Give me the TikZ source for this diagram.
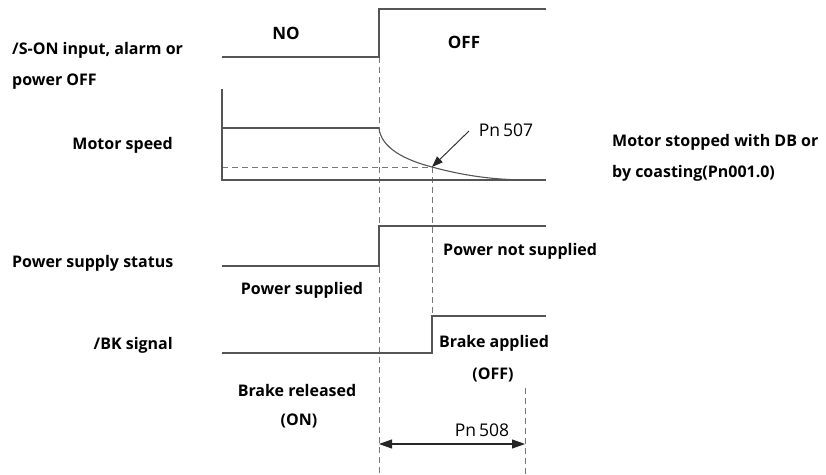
\documentclass[tikz,border=0pt]{standalone}
\usepackage{fontspec}
\setmainfont{Open Sans}
\usetikzlibrary{arrows.meta}
\definecolor{lc}{HTML}{555555}
\tikzset{
  sig/.style={draw=lc, line width=1.3pt},
  dsh/.style={draw=lc!80, line width=1pt, dash pattern=on 6pt off 4pt},
  lbl/.style={font=\fontsize{16}{18}\selectfont\bfseries, inner sep=0pt, text=black},
  plbl/.style={font=\fontsize{17.5}{19}\selectfont, inner sep=0pt, text=black},
  dimarrow/.style={draw=black!85, line width=1.1pt, {Triangle[length=13pt,width=9pt]}-{Triangle[length=13pt,width=9pt]}},
  ptrarrow/.style={draw=black!85, line width=0.9pt, -{Triangle[length=11pt,width=8pt]}},
}
\begin{document}
\begin{tikzpicture}[x=1pt,y=-1pt]
\useasboundingbox (0,0) rectangle (826,474);
% coordinates
\coordinate (s0) at (222,57);
\coordinate (s1) at (379,57);
\coordinate (s2) at (379,9);
\coordinate (s3) at (546,9);
\coordinate (ax0) at (222,89);
\coordinate (ax1) at (222,180);
\coordinate (ax2) at (546,180);
\coordinate (m0) at (222,128);
\coordinate (m1) at (379,128);
\coordinate (cp) at (432,167);
\coordinate (d0) at (222,167);
\coordinate (p0) at (222,266);
\coordinate (p1) at (379,266);
\coordinate (p2) at (379,226);
\coordinate (p3) at (546,226);
\coordinate (b0) at (222,353);
\coordinate (b1) at (432,353);
\coordinate (b2) at (432,316);
\coordinate (b3) at (546,316);
\coordinate (v1t) at (379,57);
\coordinate (v1b) at (379,474);
\coordinate (v3t) at (525,388);
\coordinate (v3b) at (525,474);
\coordinate (a8l) at (379,444);
\coordinate (a8r) at (525,444);
\coordinate (a7s) at (469,131);
% dashed guides
\draw[dsh] (v1t) -- (v1b);
\draw[dsh] (cp) -- (b2);
\draw[dsh] (d0) -- (cp);
\draw[dsh] (v3t) -- (v3b);
% signals
\draw[sig] (s0) -- (s1) -- (s2) -- (s3);
\draw[sig] (ax0) -- (ax1) -- (ax2);
\draw[sig] (m0) -- (m1);
\draw[draw=lc, line width=1.1pt] (m1) .. controls (381,148) and (405,160) .. (cp) .. controls (465,176) and (495,180) .. (530,180);
\draw[sig] (p0) -- (p1) -- (p2) -- (p3);
\draw[sig] (b0) -- (b1) -- (b2) -- (b3);
% arrows
\draw[ptrarrow] (a7s) -- (cp);
\draw[dimarrow] (a8l) -- (a8r);
% texts
\node[font=\fontsize{17}{19}\selectfont\bfseries, inner sep=0pt] (tno) at (286,33) {NO};
\node[font=\fontsize{17}{19}\selectfont\bfseries, inner sep=0pt] (toff) at (464,42) {OFF};
\node[plbl] (t507) at (506,130) {Pn\,507};
\node[plbl] (t508) at (482,430) {Pn\,508};
\node[lbl, anchor=west] (tson1) at (12,50) {/S-ON input, alarm or};
\node[lbl, anchor=west] (tson2) at (12,82) {power OFF};
\node[lbl, anchor=east] (tms) at (173,145) {Motor speed};
\node[lbl, anchor=west] (tpss) at (12,263) {Power supply status};
\node[lbl, anchor=east] (tbk) at (173,345) {/BK signal};
\node[lbl] (tps) at (302,290) {Power supplied};
\node[lbl, anchor=west] (tpns) at (443,251) {Power not supplied};
\node[lbl] (tba) at (494,343) {Brake applied};
\node[lbl] (toffb) at (493,375) {(OFF)};
\node[lbl] (tbr) at (297,390) {Brake released};
\node[lbl] (ton) at (299,421) {(ON)};
\node[lbl, anchor=west] (tms1) at (612,142) {Motor stopped with DB or};
\node[lbl, anchor=west] (tms2) at (612,173) {by coasting(Pn001.0)};
\end{tikzpicture}
\end{document}
